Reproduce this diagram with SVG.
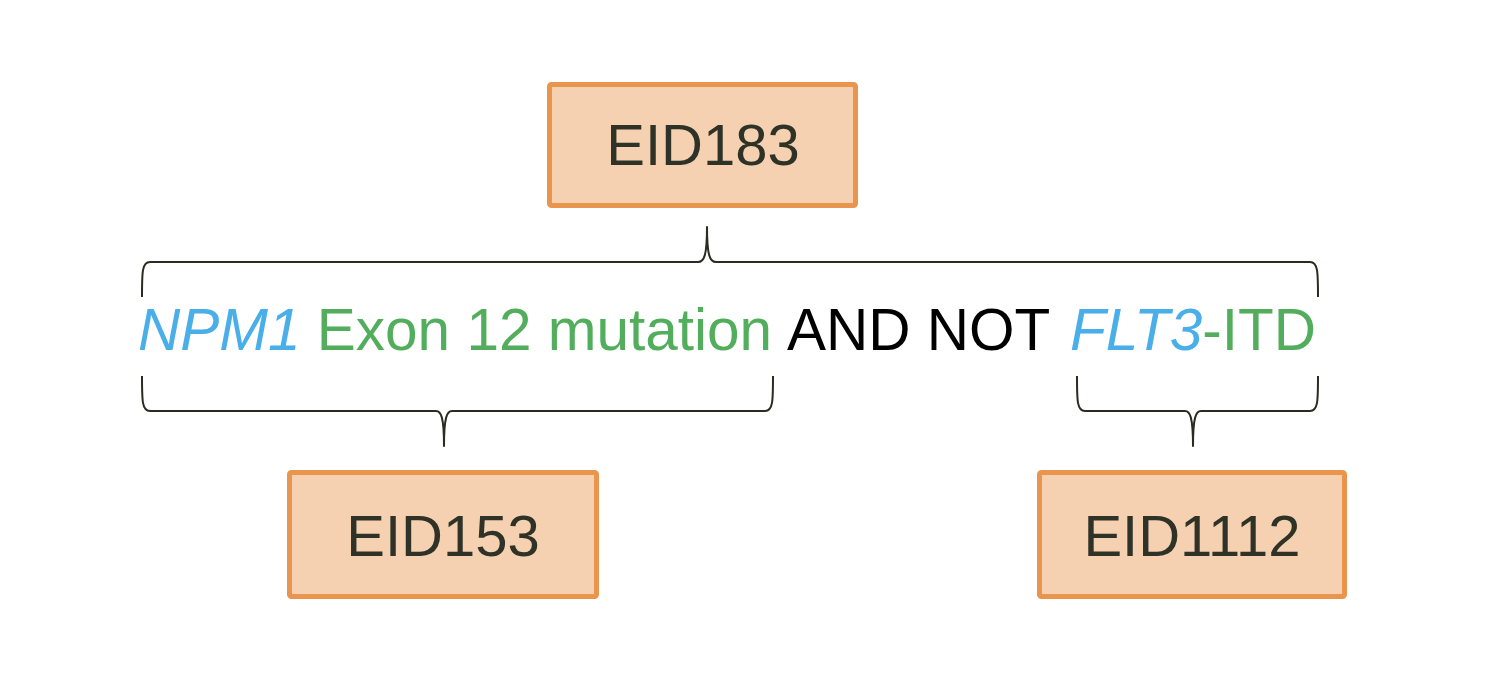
<svg xmlns="http://www.w3.org/2000/svg" width="1498" height="676" viewBox="0 0 1498 676">
  <style>
    .box { fill: #F5D1B1; stroke: #E9954E; stroke-width: 5; }
    .lbl { font-family: "Liberation Sans", Arial, sans-serif; font-size: 58px; fill: #2F3226; text-anchor: middle; }
    .brace { fill: none; stroke: #2B2B22; stroke-width: 2; stroke-linejoin: round; }
    .expr { font-family: "Liberation Sans", Arial, sans-serif; font-size: 58.5px; }
    .gene { fill: #4AAEE9; font-style: italic; }
    .feat { fill: #52AE5D; }
    .op { fill: #000000; }
  </style>
  <rect width="1498" height="676" fill="#FFFFFF"/>
  <g id="connectors">
    <path class="brace" d="M142,297 C142,272 142,262 150,262 L698,262 C704,262 707,256 707,227 C707,256 710,262 716,262 L1310,262 C1318,262 1318,272 1318,297"/>
    <path class="brace" d="M142,376 C142,401 142,411 150,411 L436,411 C441,411 444,417 444,446 C444,417 447,411 452,411 L765,411 C773,411 773,401 773,376"/>
    <path class="brace" d="M1077,376 C1077,401 1077,411 1085,411 L1185,411 C1190,411 1193,417 1193,446 C1193,417 1196,411 1201,411 L1310,411 C1318,411 1318,401 1318,376"/>
  </g>
  <g id="expression">
    <text class="expr" y="350"><tspan class="gene" x="138">NPM1</tspan><tspan class="feat"> Exon 12 mutation</tspan><tspan class="op" x="787">AND NOT</tspan><tspan class="gene" x="1070">FLT3</tspan><tspan class="feat">-ITD</tspan></text>
  </g>
  <g id="EID183">
    <rect class="box" x="549.5" y="84.5" width="306" height="121" rx="2"/>
    <text class="lbl" x="703" y="165">EID183</text>
  </g>
  <g id="EID153">
    <rect class="box" x="289.5" y="472.5" width="307" height="124" rx="2"/>
    <text class="lbl" x="443" y="556">EID153</text>
  </g>
  <g id="EID1112">
    <rect class="box" x="1039.5" y="472.5" width="305" height="124" rx="2"/>
    <text class="lbl" x="1192" y="556">EID1112</text>
  </g>
</svg>
